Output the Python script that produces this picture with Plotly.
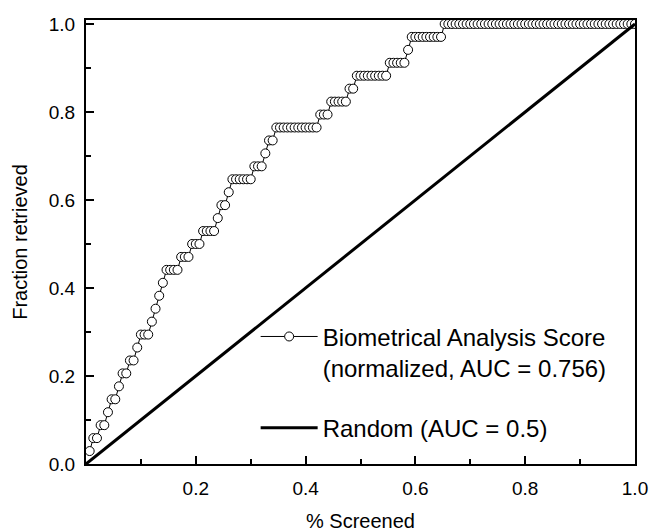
import numpy as np
import plotly.graph_objects as go

# Ranks (1-based) at which each active compound was retrieved
active_ranks = [1, 2, 4, 6, 7, 9, 10, 12, 14, 15, 18, 19, 20, 21, 22, 26, 29, 32,
                36, 37, 39, 40, 46, 49, 50, 52, 64, 67, 72, 74, 83, 88, 89, 98]
n_compounds = 150
n_actives = len(active_ranks)

random_x = [0.0, 1.0]
random_y = [0.0, 1.0]

x_tickvals = [0.0, 0.2, 0.4, 0.6, 0.8, 1.0]
x_ticktext = ["", "0.2", "0.4", "0.6", "0.8", "1.0"]
y_tickvals = [0.0, 0.2, 0.4, 0.6, 0.8, 1.0]
y_ticktext = ["0.0", "0.2", "0.4", "0.6", "0.8", "1.0"]

bio_name = "Biometrical Analysis Score<br>(normalized, AUC = 0.756)"
rand_name = "Random (AUC = 0.5)"

# Build the enrichment curve from the ranks
ranks = np.arange(1, n_compounds + 1)
hits = np.isin(ranks, active_ranks).astype(int)
bio_x = ranks / n_compounds
bio_y = np.cumsum(hits) / n_actives

FONT = "Arial, Liberation Sans, sans-serif"

fig = go.Figure()
fig.add_trace(go.Scatter(
    x=bio_x, y=bio_y, mode="lines+markers", name=bio_name,
    line=dict(color="black", width=1),
    marker=dict(symbol="circle", size=9, color="white",
                line=dict(color="black", width=1)),
    legendgroup="a", legendrank=1,
))
fig.add_trace(go.Scatter(
    x=random_x, y=random_y, mode="lines", name=rand_name,
    line=dict(color="black", width=3),
    legendgroup="b", legendrank=2,
))

axis_common = dict(
    showline=True, linecolor="black", linewidth=2, mirror=True,
    ticks="inside", ticklen=8, tickwidth=2, tickcolor="black",
    showgrid=False, zeroline=False, automargin=False,
    tickfont=dict(family=FONT, size=19, color="black"),
    minor=dict(ticks="inside", ticklen=5, tickwidth=2, tickcolor="black",
               tick0=0, dtick=0.1, showgrid=False),
)

fig.update_layout(
    width=650, height=532, autosize=False,
    margin=dict(l=86, r=15, t=20, b=68),
    paper_bgcolor="white", plot_bgcolor="white",
    font=dict(family=FONT, color="black"),
    xaxis=dict(range=[0, 1], tickmode="array", tickvals=x_tickvals,
               ticktext=x_ticktext, ticklabelstandoff=6,
               title=dict(text="% Screened", font=dict(family=FONT, size=20),
                          standoff=23),
               **axis_common),
    yaxis=dict(range=[0, 1.009], tickmode="array", tickvals=y_tickvals,
               ticktext=y_ticktext, ticklabelstandoff=5,
               title=dict(text="Fraction retrieved", font=dict(family=FONT, size=20),
                          standoff=16),
               **axis_common),
    showlegend=True,
    legend=dict(x=0.309, y=0.337, xanchor="left", yanchor="top",
                bgcolor="rgba(0,0,0,0)", borderwidth=0,
                font=dict(family=FONT, size=24, color="black"),
                valign="top", traceorder="grouped", tracegroupgap=26,
                itemwidth=57),
)

fig.write_html(
    "out.html",
    config={"displayModeBar": False},
    post_script="document.body.style.margin='0';document.body.style.overflow='hidden';",
)
